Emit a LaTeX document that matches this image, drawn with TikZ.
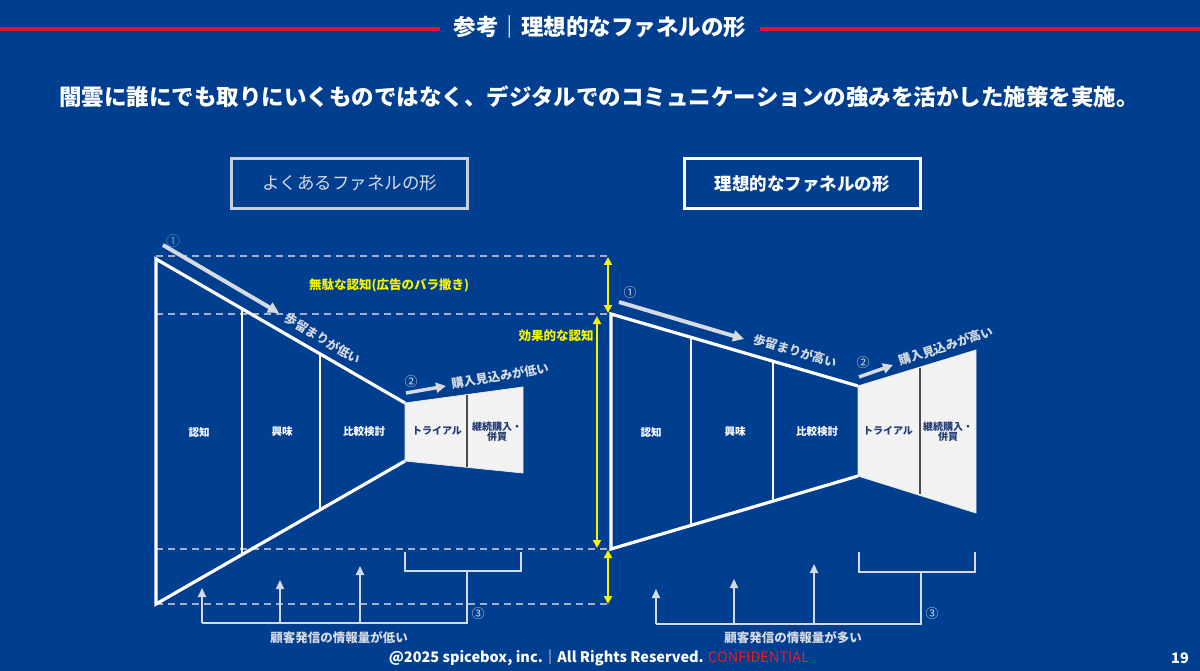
\documentclass[tikz,border=0pt]{standalone}
\usepackage{fontspec}
\setmainfont{Noto Sans CJK JP}
\usetikzlibrary{arrows.meta}
\definecolor{bg}{RGB}{0,62,143}
\definecolor{hdrred}{RGB}{215,20,60}
\definecolor{conf}{RGB}{235,25,45}
\definecolor{lgray}{RGB}{214,218,228}
\definecolor{dashc}{RGB}{165,175,205}
\definecolor{ylw}{RGB}{245,245,0}
\definecolor{trapc}{RGB}{242,242,242}
\definecolor{traptext}{RGB}{35,60,115}
\definecolor{boxgray}{RGB}{200,208,224}
\newcommand\fsz[1]{\fontsize{#1}{#1}\selectfont}
\tikzset{
  funnel/.style={draw=white, line width=3.2pt, line join=miter},
  divider/.style={draw=white, line width=1.3pt},
  trapfill/.style={fill=trapc, draw=trapc!90!gray, line width=0.8pt},
  trapdiv/.style={draw=black!70, line width=1.4pt},
  dashln/.style={draw=dashc, line width=1.5pt, dash pattern=on 7pt off 5pt},
  ydbl/.style={draw=ylw, line width=2pt, {Triangle[length=8pt,width=8pt]}-{Triangle[length=8pt,width=8pt]}},
  garrow/.style={draw=lgray, line width=4pt, -{Triangle[length=11pt,width=11pt]}},
  garrowsm/.style={draw=lgray, line width=3.5pt, -{Triangle[length=10pt,width=10pt]}},
  brk/.style={draw=lgray, line width=2pt},
  uparrow/.style={draw=lgray, line width=2pt, -{Triangle[length=9pt,width=8pt]}},
  stagelbl/.style={text=white, font=\fsz{10.5}\bfseries, inner sep=0pt},
  traplbl/.style={text=traptext, font=\fsz{10}\bfseries, inner sep=0pt, align=center},
  ylbl/.style={text=ylw, font=\fsz{12.5}\bfseries, inner sep=0pt},
  rotlbl/.style={text=lgray, font=\fsz{12.3}\bfseries, inner sep=0pt},
  numlbl/.style={text=lgray, font=\fsz{13}, inner sep=0pt},
  botlbl/.style={text=lgray, font=\fsz{12.5}\bfseries, inner sep=0pt},
}
\begin{document}
\begin{tikzpicture}[x=1pt,y=-1pt]
\fill[bg] (0,0) rectangle (1200,671);
\useasboundingbox (0,0) rectangle (1200,671);

% header
\node[text=white, font=\fsz{22.5}\bfseries, inner sep=0pt] (title) at (600,27) {参考｜理想的なファネルの形};
\coordinate (hl1) at (0,29); \coordinate (hl2) at (440,29);
\coordinate (hr1) at (760,29); \coordinate (hr2) at (1200,29);
\draw[hdrred, line width=3.5pt] (hl1) -- (hl2);
\draw[hdrred, line width=3.5pt] (hr1) -- (hr2);

\node[text=white, font=\fsz{22.5}\bfseries, inner sep=0pt] (sub) at (599,97)
  {闇雲に誰にでも取りにいくものではなく、デジタルでのコミュニケーションの強みを活かした施策を実施。};

% boxes
\node[draw=boxgray, line width=3pt, minimum width=236pt, minimum height=50pt, text=lgray, font=\fsz{17.5}, inner sep=0pt] (boxL) at (349.5,183.5) {よくあるファネルの形};
\node[draw=white, line width=3pt, minimum width=236pt, minimum height=50pt, text=white, font=\fsz{17.5}\bfseries, inner sep=0pt] (boxR) at (802,183.5) {理想的なファネルの形};

% dashed guides
\coordinate (d1a) at (156,256); \coordinate (d1b) at (610,256);
\coordinate (d2a) at (156,314); \coordinate (d2b) at (610,314);
\coordinate (d3a) at (156,549); \coordinate (d3b) at (610,549);
\coordinate (d4a) at (156,604); \coordinate (d4b) at (610,604);
\draw[dashln] (d1a) -- (d1b);
\draw[dashln] (d2a) -- (d2b);
\draw[dashln] (d3a) -- (d3b);
\draw[dashln] (d4a) -- (d4b);

% yellow arrows
\coordinate (y1a) at (608,257); \coordinate (y1b) at (608,313);
\coordinate (y2a) at (597,316); \coordinate (y2b) at (597,548);
\coordinate (y3a) at (608,550); \coordinate (y3b) at (608,604);
\draw[ydbl] (y1a) -- (y1b);
\draw[ydbl] (y2a) -- (y2b);
\draw[ydbl] (y3a) -- (y3b);
\node[ylbl] (waste) at (389,285) {無駄な認知(広告のバラ撒き)};
\node[ylbl] (eff) at (556,336) {効果的な認知};

% left funnel
\coordinate (L1) at (156,259); \coordinate (L2) at (405,403);
\coordinate (L3) at (405,461); \coordinate (L4) at (156,604);
\coordinate (LT1) at (523,387); \coordinate (LT2) at (523,473);
\filldraw[trapfill] (L2) -- (LT1) -- (LT2) -- (L3) -- cycle;
\coordinate (Ltd1) at (467,395); \coordinate (Ltd2) at (467,467);
\draw[trapdiv] (Ltd1) -- (Ltd2);
\draw[funnel] (L2) -- (L1) -- (L4) -- (L3);
\coordinate (Lv1a) at (242,309); \coordinate (Lv1b) at (242,554);
\coordinate (Lv2a) at (320,354); \coordinate (Lv2b) at (320,509);
\draw[divider] (Lv1a) -- (Lv1b);
\draw[divider] (Lv2a) -- (Lv2b);
\node[stagelbl] (Ls1) at (199,432) {認知};
\node[stagelbl] (Ls2) at (282,432) {興味};
\node[stagelbl] (Ls3) at (364,432) {比較検討};
\node[traplbl] (Ls4) at (437,431) {トライアル};
\node[traplbl] (Ls5) at (497,432) {継続購入・\\併買};

% left annotations
\node[text=dashc!70!bg, font=\fsz{14}, inner sep=0pt] (Ln1) at (173,241) {①};
\coordinate (La1s) at (163,245); \coordinate (La1e) at (279,313);
\draw[garrow] (La1s) -- (La1e);
\node[rotlbl, rotate=-31] (Lr1) at (323,339) {歩留まりが低い};
\node[numlbl] (Ln2) at (411,382) {②};
\coordinate (La2s) at (406,393); \coordinate (La2e) at (446,386);
\draw[garrowsm] (La2s) -- (La2e);
\node[rotlbl, rotate=9] (Lr2) at (500,376) {購入見込みが低い};

% left bottom bracket
\coordinate (Lb1) at (405,552); \coordinate (Lb2) at (405,571);
\coordinate (Lb3) at (521,571); \coordinate (Lb4) at (521,552);
\draw[brk] (Lb1) -- (Lb2) -- (Lb3) -- (Lb4);
\coordinate (Lbs) at (467,571); \coordinate (Lbc) at (467,623); \coordinate (Lbe) at (202,623);
\draw[brk] (Lbs) -- (Lbc) -- (Lbe);
\coordinate (Lu1) at (202,623); \coordinate (Lu1t) at (202,588);
\coordinate (Lu2) at (280,623); \coordinate (Lu2t) at (280,580);
\coordinate (Lu3) at (360,623); \coordinate (Lu3t) at (360,566);
\draw[uparrow] (Lu1) -- (Lu1t);
\draw[uparrow] (Lu2) -- (Lu2t);
\draw[uparrow] (Lu3) -- (Lu3t);
\node[numlbl] (Ln3) at (478,614) {③};
\node[botlbl] (Lbot) at (339,638) {顧客発信の情報量が低い};

% right funnel
\coordinate (R1) at (611,314); \coordinate (R2) at (858,386);
\coordinate (R3) at (858,476); \coordinate (R4) at (611,549);
\coordinate (RT1) at (976,350); \coordinate (RT2) at (976,513);
\filldraw[trapfill] (R2) -- (RT1) -- (RT2) -- (R3) -- cycle;
\coordinate (Rtd1) at (920,368); \coordinate (Rtd2) at (920,494);
\draw[trapdiv] (Rtd1) -- (Rtd2);
\draw[funnel] (R2) -- (R1) -- (R4) -- (R3);
\coordinate (Rv1a) at (691,338); \coordinate (Rv1b) at (691,524);
\coordinate (Rv2a) at (773,361); \coordinate (Rv2b) at (773,500);
\draw[divider] (Rv1a) -- (Rv1b);
\draw[divider] (Rv2a) -- (Rv2b);
\node[stagelbl] (Rs1) at (651,432) {認知};
\node[stagelbl] (Rs2) at (735,432) {興味};
\node[stagelbl] (Rs3) at (817,432) {比較検討};
\node[traplbl] (Rs4) at (888,431) {トライアル};
\node[traplbl] (Rs5) at (948,432) {継続購入・\\併買};

% right annotations
\node[numlbl] (Rn1) at (630,293) {①};
\coordinate (Ra1s) at (619,302); \coordinate (Ra1e) at (744,339);
\draw[garrow] (Ra1s) -- (Ra1e);
\node[rotlbl, rotate=-16.5] (Rr1) at (795,351) {歩留まりが高い};
\node[numlbl] (Rn2) at (863,363) {②};
\coordinate (Ra2s) at (859,377); \coordinate (Ra2e) at (893,365);
\draw[garrowsm] (Ra2s) -- (Ra2e);
\node[rotlbl, rotate=18] (Rr2) at (946,346) {購入見込みが高い};

% right bottom bracket
\coordinate (Rb1) at (859,552); \coordinate (Rb2) at (859,572);
\coordinate (Rb3) at (975,572); \coordinate (Rb4) at (975,552);
\draw[brk] (Rb1) -- (Rb2) -- (Rb3) -- (Rb4);
\coordinate (Rbs) at (921,572); \coordinate (Rbc) at (921,624); \coordinate (Rbe) at (656,624);
\draw[brk] (Rbs) -- (Rbc) -- (Rbe);
\coordinate (Ru1) at (656,624); \coordinate (Ru1t) at (656,589);
\coordinate (Ru2) at (734,624); \coordinate (Ru2t) at (734,579);
\coordinate (Ru3) at (814,624); \coordinate (Ru3t) at (814,564);
\draw[uparrow] (Ru1) -- (Ru1t);
\draw[uparrow] (Ru2) -- (Ru2t);
\draw[uparrow] (Ru3) -- (Ru3t);
\node[numlbl] (Rn3) at (932,614) {③};
\node[botlbl] (Rbot) at (793,638) {顧客発信の情報量が多い};

% footer
\node[text=white, font=\fsz{14.5}\bfseries, inner sep=0pt] (foot) at (599,658)
  {@2025 spicebox, inc.｜All Rights Reserved. \textcolor{conf}{\mdseries CONFIDENTIAL}};
\node[text=white, font=\fsz{14.5}\bfseries, inner sep=0pt] (page) at (1180,658) {19};
\end{tikzpicture}
\end{document}
